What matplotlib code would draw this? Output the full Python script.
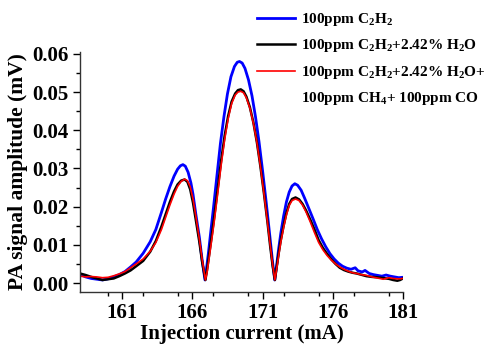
import matplotlib
matplotlib.use("Agg")
import matplotlib.pyplot as plt
from matplotlib.lines import Line2D
from matplotlib.ticker import MultipleLocator

plt.rcParams['font.family'] = ['Liberation Serif']
plt.rcParams['font.weight'] = 'bold'
plt.rcParams['mathtext.fontset'] = 'custom'
plt.rcParams['mathtext.rm'] = 'Liberation Serif:bold'
plt.rcParams['mathtext.default'] = 'rm'

# ---- data ----
x_blue = [158.0, 158.4, 158.8, 159.2, 159.6, 160.0, 160.4, 160.8, 161.2, 161.6, 162.0, 162.5, 163.0, 163.4,
          163.8, 164.1, 164.4, 164.7, 164.95, 165.15, 165.33, 165.5, 165.7, 165.9, 166.05, 166.25, 166.5,
          166.7, 166.9,
          167.0, 167.15, 167.3, 167.5, 167.75, 168.0, 168.25, 168.5, 168.75, 169.0, 169.2, 169.36, 169.55,
          169.75, 170.0, 170.25, 170.5, 170.75, 171.0, 171.25, 171.5, 171.7, 171.87,
          172.0, 172.15, 172.3, 172.5, 172.7, 172.9, 173.1, 173.3, 173.5, 173.75, 174.0, 174.3, 174.6,
          174.9, 175.2, 175.5, 175.8, 176.1, 176.4, 176.7, 177.0, 177.3, 177.6, 177.8, 178.1, 178.3,
          178.6, 178.9, 179.2, 179.5, 179.8, 180.1, 180.4, 180.7, 181.0]
y_blue = [0.0023, 0.0016, 0.0012, 0.0010, 0.0008, 0.0011, 0.0016, 0.0022, 0.0030, 0.0042, 0.0055, 0.0078,
          0.0108, 0.0140, 0.0185, 0.0220, 0.0252, 0.0280, 0.0298, 0.0307, 0.0310, 0.0306, 0.0290, 0.0262,
          0.0232, 0.0180, 0.0120, 0.0060, 0.0008,
          0.0035, 0.0080, 0.0130, 0.0195, 0.0280, 0.0365, 0.0435, 0.0495, 0.0540, 0.0567, 0.0578, 0.0580,
          0.0576, 0.0562, 0.0532, 0.0490, 0.0435, 0.0370, 0.0295, 0.0215, 0.0130, 0.0060, 0.0008,
          0.0045, 0.0090, 0.0130, 0.0175, 0.0212, 0.0238, 0.0254, 0.0260, 0.0256, 0.0243, 0.0222, 0.0195,
          0.0168, 0.0140, 0.0116, 0.0095, 0.0077, 0.0063, 0.0052, 0.0044, 0.0039, 0.0036, 0.0040, 0.0032,
          0.0029, 0.0033, 0.0025, 0.0022, 0.0020, 0.0018, 0.0021, 0.0018, 0.0016, 0.0014, 0.0015]

x_mix = [158.0, 158.4, 158.8, 159.2, 159.6, 160.0, 160.4, 160.8, 161.2, 161.6, 162.0, 162.5, 163.0, 163.4,
         163.8, 164.1, 164.4, 164.7, 164.95, 165.2, 165.45, 165.65, 165.85, 166.05, 166.25, 166.5, 166.7,
         166.93,
         167.05, 167.2, 167.35, 167.55, 167.8, 168.05, 168.3, 168.55, 168.8, 169.05, 169.25, 169.45, 169.65,
         169.85, 170.1, 170.35, 170.6, 170.85, 171.1, 171.35, 171.55, 171.72, 171.88,
         172.0, 172.15, 172.3, 172.5, 172.7, 172.9, 173.1, 173.35, 173.6, 173.85, 174.1, 174.4, 174.7,
         175.0, 175.3, 175.6, 175.9, 176.2, 176.5, 176.8, 177.1, 177.4, 177.7, 178.0, 178.4, 178.8,
         179.2, 179.6, 180.0, 180.3, 180.6, 180.8, 181.0]
y_black = [0.0025, 0.0021, 0.0016, 0.0012, 0.0008, 0.0010, 0.0012, 0.0018, 0.0025, 0.0033, 0.0044, 0.0058,
           0.0082, 0.0110, 0.0148, 0.0180, 0.0212, 0.0240, 0.0258, 0.0268, 0.0271, 0.0265, 0.0245, 0.0210,
           0.0165, 0.0108, 0.0055, 0.0008,
           0.0035, 0.0075, 0.0115, 0.0170, 0.0245, 0.0320, 0.0385, 0.0437, 0.0475, 0.0496, 0.0505, 0.0507,
           0.0502, 0.0488, 0.0460, 0.0420, 0.0368, 0.0305, 0.0235, 0.0160, 0.0095, 0.0045, 0.0008,
           0.0040, 0.0078, 0.0112, 0.0150, 0.0183, 0.0207, 0.0220, 0.0224, 0.0219, 0.0207, 0.0190, 0.0166,
           0.0140, 0.0112, 0.0092, 0.0076, 0.0062, 0.0050, 0.0040, 0.0034, 0.0030, 0.0027, 0.0025, 0.0022,
           0.0018, 0.0016, 0.0015, 0.0013, 0.0011, 0.0008, 0.0006, 0.0008, 0.0012]
y_red = [0.0018, 0.0016, 0.0017, 0.0016, 0.0014, 0.0015, 0.0019, 0.0024, 0.0030, 0.0040, 0.0050, 0.0063,
         0.0083, 0.0106, 0.0140, 0.0172, 0.0204, 0.0233, 0.0253, 0.0266, 0.0272, 0.0268, 0.0252, 0.0220,
         0.0175, 0.0115, 0.0062, 0.0008,
         0.0028, 0.0066, 0.0105, 0.0158, 0.0232, 0.0308, 0.0375, 0.0430, 0.0470, 0.0492, 0.0500, 0.0502,
         0.0498, 0.0485, 0.0458, 0.0418, 0.0368, 0.0305, 0.0235, 0.0160, 0.0098, 0.0048, 0.0008,
         0.0035, 0.0072, 0.0107, 0.0145, 0.0178, 0.0203, 0.0216, 0.0220, 0.0216, 0.0204, 0.0186, 0.0160,
         0.0132, 0.0106, 0.0087, 0.0072, 0.0060, 0.0050, 0.0042, 0.0036, 0.0031, 0.0027, 0.0025, 0.0022,
         0.0020, 0.0016, 0.0013, 0.0010, 0.0014, 0.0012, 0.0011, 0.0011, 0.0012]

labels = ["100ppm C$_2$H$_2$",
          "100ppm C$_2$H$_2$+2.42% H$_2$O",
          "100ppm C$_2$H$_2$+2.42% H$_2$O+",
          "100ppm CH$_4$+ 100ppm CO"]
x_ticks = [161, 166, 171, 176, 181]
y_ticks = [0.00, 0.01, 0.02, 0.03, 0.04, 0.05, 0.06]

# ---- figure ----
fig = plt.figure(figsize=(4.89, 3.44), dpi=100)
ax = fig.add_axes([0.1636, 0.1517, 0.824 - 0.1636, 0.849 - 0.1517])

l1, = ax.plot(x_blue, y_blue, color='#0000ff', lw=2.0, label=labels[0], solid_joinstyle='round')
l2, = ax.plot(x_mix, y_black, color='black', lw=1.8, label=labels[1], solid_joinstyle='round')
l3, = ax.plot(x_mix, y_red, color='#ff0000', lw=1.2, label=labels[2], solid_joinstyle='round')
dummy = Line2D([], [], color='none', lw=0)

ax.set_xlim(158, 181)
ax.set_ylim(-0.0023, 0.0605)
ax.set_xticks(x_ticks)
ax.set_yticks(y_ticks)
ax.set_yticklabels([f"{v:.2f}" for v in y_ticks])
ax.xaxis.set_minor_locator(MultipleLocator(2.5))
ax.yaxis.set_minor_locator(MultipleLocator(0.005))
ax.tick_params(which='major', direction='out', length=5, width=1, labelsize=15, pad=3)
ax.tick_params(which='minor', direction='out', length=3, width=1)
for s in ['top', 'right']:
    ax.spines[s].set_visible(False)
for s in ['left', 'bottom']:
    ax.spines[s].set_linewidth(1.0)
    ax.spines[s].set_color('#333333')

ax.set_xlabel("Injection current (mA)", fontsize=15, fontweight='bold', labelpad=1)
ax.set_ylabel("PA signal amplitude (mV)", fontsize=15.5, fontweight='bold', labelpad=3)

fig.legend([l1, l2, l3, dummy], labels, loc='upper left',
           bbox_to_anchor=(257 / 489, 1 - 11 / 344), bbox_transform=fig.transFigure,
           frameon=False, fontsize=11, handlelength=2.5, handletextpad=0.35,
           labelspacing=0.62, borderpad=0, borderaxespad=0)

fig.savefig("out.png", dpi=100)
